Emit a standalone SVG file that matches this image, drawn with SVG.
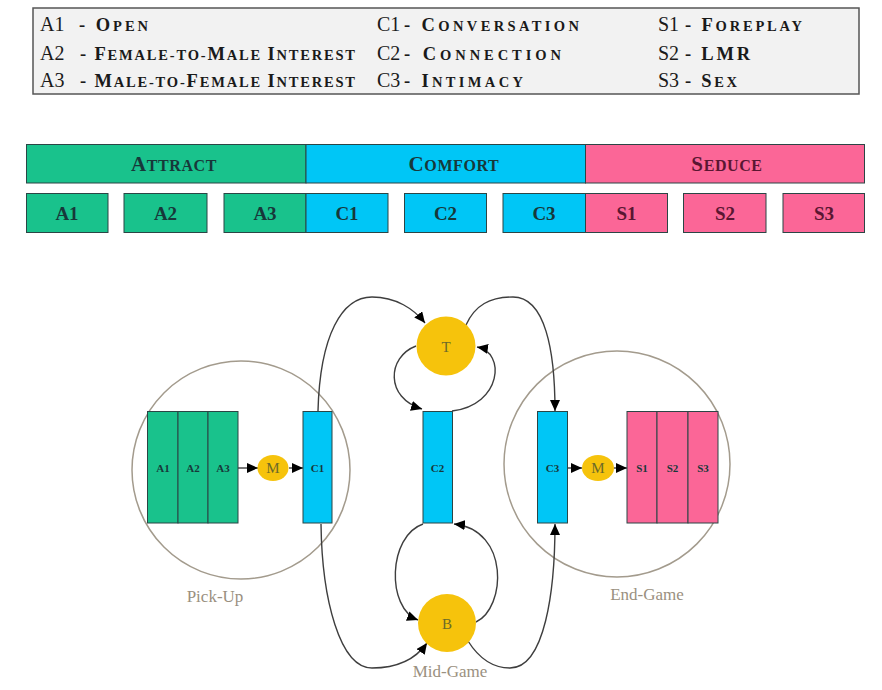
<svg xmlns="http://www.w3.org/2000/svg" width="882" height="690" viewBox="0 0 882 690">
<style>
.lg{font-family:"Liberation Serif",serif;fill:#1a1a1a}
.code{font-size:20px}
.desc{font-size:18.5px;font-weight:bold}
.s{font-size:14.5px}
.bar{stroke:#2b4545;stroke-width:1}
.g{fill:#19c28c}.c{fill:#00c6f6}.p{fill:#fb6697}
.bt{font-family:"Liberation Serif",serif;font-weight:bold;text-anchor:middle;fill:#17383a}
.ht{font-size:21px;letter-spacing:0.6px}
.hs{font-size:16px}
.st{font-size:19px}
.pt{fill:#5a1632}
.nt{font-family:"Liberation Serif",serif;font-weight:bold;font-size:11px;text-anchor:middle;fill:#17383a}
.ring{fill:none;stroke:#a39b8d;stroke-width:1.5}
.rl{font-family:"Liberation Serif",serif;font-size:17px;text-anchor:middle;fill:#9a9080}
.gold{fill:#f6c30c}
.gt{font-family:"Liberation Serif",serif;font-size:15px;text-anchor:middle;fill:#6b6a2a}
.cn{fill:none;stroke:#3e3e3e;stroke-width:1.4;marker-end:url(#ah)}
</style>
<defs>
<marker id="ah" markerUnits="userSpaceOnUse" markerWidth="12" markerHeight="10" refX="11" refY="5" orient="auto">
<path d="M0,0 L11,5 L0,10 z" fill="#000"/>
</marker>
</defs>
<rect width="882" height="690" fill="#fff"/>

<g id="legend">
<rect x="33" y="8" width="826" height="86" fill="#f2f2f2" stroke="#555" stroke-width="1.5"/>
<text class="lg code" x="40" y="31">A1</text>
<text class="lg desc" x="79" y="31" textLength="69" lengthAdjust="spacing">- O<tspan class="s">PEN</tspan></text>
<text class="lg code" x="40" y="60">A2</text>
<text class="lg desc" x="80" y="60" textLength="275" lengthAdjust="spacing">- F<tspan class="s">EMALE-TO-</tspan>M<tspan class="s">ALE </tspan>I<tspan class="s">NTEREST</tspan></text>
<text class="lg code" x="40" y="87">A3</text>
<text class="lg desc" x="80" y="87" textLength="275" lengthAdjust="spacing">- M<tspan class="s">ALE-TO-</tspan>F<tspan class="s">EMALE </tspan>I<tspan class="s">NTEREST</tspan></text>
<text class="lg code" x="377" y="31">C1</text>
<text class="lg desc" x="404" y="31" textLength="175" lengthAdjust="spacing">- C<tspan class="s">ONVERSATION</tspan></text>
<text class="lg code" x="377" y="60">C2</text>
<text class="lg desc" x="404" y="60" textLength="157" lengthAdjust="spacing">- C<tspan class="s">ONNECTION</tspan></text>
<text class="lg code" x="377" y="87">C3</text>
<text class="lg desc" x="404" y="87" textLength="119" lengthAdjust="spacing">- I<tspan class="s">NTIMACY</tspan></text>
<text class="lg code" x="658" y="31">S1</text>
<text class="lg desc" x="685" y="31" textLength="117" lengthAdjust="spacing">- F<tspan class="s">OREPLAY</tspan></text>
<text class="lg code" x="658" y="60">S2</text>
<text class="lg desc" x="685" y="60" textLength="65" lengthAdjust="spacing">- LMR</text>
<text class="lg code" x="658" y="87">S3</text>
<text class="lg desc" x="685" y="87" textLength="52" lengthAdjust="spacing">- S<tspan class="s">EX</tspan></text>
</g>

<g id="phase-bar">
<rect class="bar g" x="26.5" y="144.5" width="279.5" height="38.5"/>
<rect class="bar c" x="306" y="144.5" width="279.5" height="38.5"/>
<rect class="bar p" x="585.5" y="144.5" width="279" height="38.5"/>
<text class="bt ht" x="174" y="171">A<tspan class="hs">TTRACT</tspan></text>
<text class="bt ht" x="454" y="171">C<tspan class="hs">OMFORT</tspan></text>
<text class="bt ht pt" x="727" y="171">S<tspan class="hs">EDUCE</tspan></text>
</g>

<g id="step-bar">
<rect class="bar g" x="26.5" y="193.5" width="81.5" height="39"/>
<rect class="bar g" x="124" y="193.5" width="83" height="39"/>
<rect class="bar g" x="224" y="193.5" width="82" height="39"/>
<rect class="bar c" x="306" y="193.5" width="82" height="39"/>
<rect class="bar c" x="404.5" y="193.5" width="82" height="39"/>
<rect class="bar c" x="503" y="193.5" width="82.5" height="39"/>
<rect class="bar p" x="585.5" y="193.5" width="82" height="39"/>
<rect class="bar p" x="683.5" y="193.5" width="82.5" height="39"/>
<rect class="bar p" x="783" y="193.5" width="81.5" height="39"/>
<text class="bt st" x="67" y="220">A1</text>
<text class="bt st" x="165.5" y="220">A2</text>
<text class="bt st" x="265" y="220">A3</text>
<text class="bt st" x="347" y="220">C1</text>
<text class="bt st" x="445.5" y="220">C2</text>
<text class="bt st" x="544" y="220">C3</text>
<text class="bt st pt" x="626.5" y="220">S1</text>
<text class="bt st pt" x="725" y="220">S2</text>
<text class="bt st pt" x="824" y="220">S3</text>
</g>

<g id="pick-up">
<circle class="ring" cx="241" cy="470" r="109"/>
<text class="rl" x="215" y="602">Pick-Up</text>
</g>
<g id="end-game">
<circle class="ring" cx="617" cy="464" r="113"/>
<text class="rl" x="647" y="600">End-Game</text>
</g>
<g id="mid-game">
<text class="rl" x="450" y="677">Mid-Game</text>
</g>

<g id="connectors">
<line class="cn" x1="238" y1="468" x2="258" y2="468"/>
<line class="cn" x1="289" y1="468" x2="303" y2="468"/>
<line class="cn" x1="568" y1="468" x2="582" y2="468"/>
<line class="cn" x1="614" y1="468" x2="627" y2="468"/>
<path class="cn" d="M318,411 C320,335 342,297 372,297 C396,297 414,309 425,323"/>
<path class="cn" d="M466,325 C475,305 490,297 513,297 C545,297 555,350 555,411"/>
<path class="cn" d="M416,346 C387,357 385,398 422,409"/>
<path class="cn" d="M452,411 C502,405 506,352 477,347"/>
<path class="cn" d="M423,524 C388,536 386,608 418,620"/>
<path class="cn" d="M476,622 C506,608 510,530 454,524"/>
<path class="cn" d="M321,524 C322,600 340,668 372,668 C395,668 415,660 427,643"/>
<path class="cn" d="M468,641 C480,660 495,668 510,668 C545,668 555,590 555,524"/>
</g>

<g id="A-block">
<rect class="bar g" x="147.5" y="411.5" width="30.5" height="111.5"/>
<rect class="bar g" x="178" y="411.5" width="30" height="111.5"/>
<rect class="bar g" x="208" y="411.5" width="30" height="111.5"/>
<text class="nt" x="163" y="472">A1</text>
<text class="nt" x="193" y="472">A2</text>
<text class="nt" x="223" y="472">A3</text>
</g>
<g id="M1">
<ellipse class="gold" cx="273" cy="468" rx="15.5" ry="13"/>
<text class="gt" x="273" y="473">M</text>
</g>
<g id="C1">
<rect class="bar c" x="303" y="411.5" width="29" height="111.5"/>
<text class="nt" x="317.5" y="472">C1</text>
</g>
<g id="C2">
<rect class="bar c" x="423" y="411.5" width="29.5" height="111.5"/>
<text class="nt" x="437.5" y="472">C2</text>
</g>
<g id="C3">
<rect class="bar c" x="537.5" y="411.5" width="30" height="111.5"/>
<text class="nt" x="552.5" y="472">C3</text>
</g>
<g id="M2">
<ellipse class="gold" cx="598" cy="468" rx="16" ry="13"/>
<text class="gt" x="598" y="473">M</text>
</g>
<g id="S-block">
<rect class="bar p" x="627" y="411.5" width="30" height="111.5"/>
<rect class="bar p" x="657" y="411.5" width="31" height="111.5"/>
<rect class="bar p" x="688" y="411.5" width="30" height="111.5"/>
<text class="nt pt" x="642" y="472">S1</text>
<text class="nt pt" x="672.5" y="472">S2</text>
<text class="nt pt" x="703" y="472">S3</text>
</g>
<g id="T">
<circle class="gold" cx="446" cy="346" r="29.5"/>
<text class="gt" x="446" y="352">T</text>
</g>
<g id="B">
<circle class="gold" cx="447" cy="623" r="29"/>
<text class="gt" x="447" y="629">B</text>
</g>
</svg>
